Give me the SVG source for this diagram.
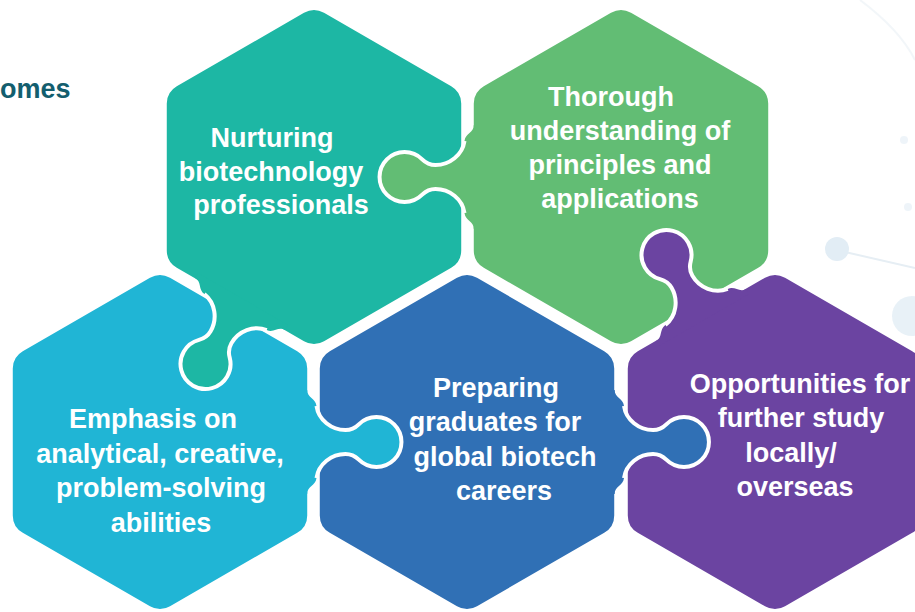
<svg xmlns="http://www.w3.org/2000/svg" width="915" height="612" viewBox="0 0 915 612">
<style>
.lbl{font-family:"Liberation Sans",Arial,sans-serif;font-weight:700;font-size:27px;fill:#ffffff;text-anchor:middle}
.title{font-family:"Liberation Sans",Arial,sans-serif;font-weight:700;font-size:27px;fill:#135E6E;text-anchor:start}
.teal{fill:#1DB7A4}
.green{fill:#62BD74}
.cyan{fill:#20B5D5}
.blue{fill:#3070B5}
.purple{fill:#6B44A1}
.tabline{fill:none;stroke:#ffffff;stroke-width:4;stroke-linecap:butt}
.deco{fill:#e2edf5}
.decoline{stroke:#e6eef4;stroke-width:2;fill:none}
</style>
<defs>
<path id="hex" d="M -10,-164.23 Q 0,-170 10,-164.23 L 137.22,-90.77 Q 147.22,-85 147.22,-73.45 L 147.22,73.45 Q 147.22,85 137.22,90.77 L 10,164.23 Q 0,170 -10,164.23 L -137.22,90.77 Q -147.22,85 -147.22,73.45 L -147.22,-73.45 Q -147.22,-85 -137.22,-90.77 Z"/>
<path id="tabFill" d="M -12,-52 L -6.3,-52 C -6.3,-44 2,-44 3,-36 C 5,-22 18,-12 32,-12 C 38,-12 41.5,-13.9 45.3,-17.7 A 25 25 0 1 1 45.3,17.7 C 41.5,13.9 38,12 32,12 C 18,12 5,22 3,36 C 2,44 -6.3,44 -6.3,52 L -12,52 Z"/>
<path id="tabLine" d="M 3,-36 C 5,-22 18,-12 32,-12 C 38,-12 41.5,-13.9 45.3,-17.7 A 25 25 0 1 1 45.3,17.7 C 41.5,13.9 38,12 32,12 C 18,12 5,22 3,36"/>
</defs>
<rect x="0" y="0" width="915" height="612" fill="#ffffff"/>
<g id="decoration">
<path class="decoline" d="M 845,252 L 915,268"/>
<path class="decoline" d="M 860,0 Q 900,30 915,60" opacity="0.5"/>
<circle class="deco" cx="837" cy="249" r="12"/>
<circle class="deco" cx="912" cy="316" r="20" opacity="0.8"/>
<circle class="deco" cx="904" cy="140" r="4" opacity="0.6"/>
<circle class="deco" cx="908" cy="207" r="4" opacity="0.6"/>
</g>
<text class="title" x="0" y="98">omes</text>
<g id="node-nurturing">
<use href="#hex" class="teal" transform="translate(314,177)"/>
<text class="lbl" x="272" y="147">Nurturing</text>
<text class="lbl" x="271" y="181">biotechnology</text>
<text class="lbl" x="281" y="214">professionals</text>
</g>
<g id="node-thorough">
<use href="#hex" class="green" transform="translate(621,177)"/>
<text class="lbl" x="611" y="106">Thorough</text>
<text class="lbl" x="620" y="140">understanding of</text>
<text class="lbl" x="620" y="174">principles and</text>
<text class="lbl" x="620" y="208">applications</text>
</g>
<g id="node-emphasis">
<use href="#hex" class="cyan" transform="translate(160,442)"/>
<text class="lbl" x="153" y="428">Emphasis on</text>
<text class="lbl" x="160" y="462.5">analytical, creative,</text>
<text class="lbl" x="161" y="497">problem-solving</text>
<text class="lbl" x="161" y="531.5">abilities</text>
</g>
<g id="node-preparing">
<use href="#hex" class="blue" transform="translate(467,442)"/>
<text class="lbl" x="496" y="397">Preparing</text>
<text class="lbl" x="495" y="431">graduates for</text>
<text class="lbl" x="505" y="466">global biotech</text>
<text class="lbl" x="504" y="500">careers</text>
</g>
<g id="node-opportunities">
<use href="#hex" class="purple" transform="translate(775,442)"/>
<text class="lbl" x="800" y="393">Opportunities for</text>
<text class="lbl" x="801" y="427">further study</text>
<text class="lbl" x="791" y="462">locally/</text>
<text class="lbl" x="795" y="496">overseas</text>
</g>
<g id="connectors">
<g transform="translate(467.5,177) rotate(180)"><use href="#tabFill" class="green"/><use href="#tabLine" class="tabline"/></g>
<g transform="translate(237,309.5) rotate(120)"><use href="#tabFill" class="teal"/><use href="#tabLine" class="tabline"/></g>
<g transform="translate(313.5,442)"><use href="#tabFill" class="cyan"/><use href="#tabLine" class="tabline"/></g>
<g transform="translate(621,442)"><use href="#tabFill" class="blue"/><use href="#tabLine" class="tabline"/></g>
<g transform="translate(698,309.5) rotate(-120)"><use href="#tabFill" class="purple"/><use href="#tabLine" class="tabline"/></g>
</g>
</svg>
